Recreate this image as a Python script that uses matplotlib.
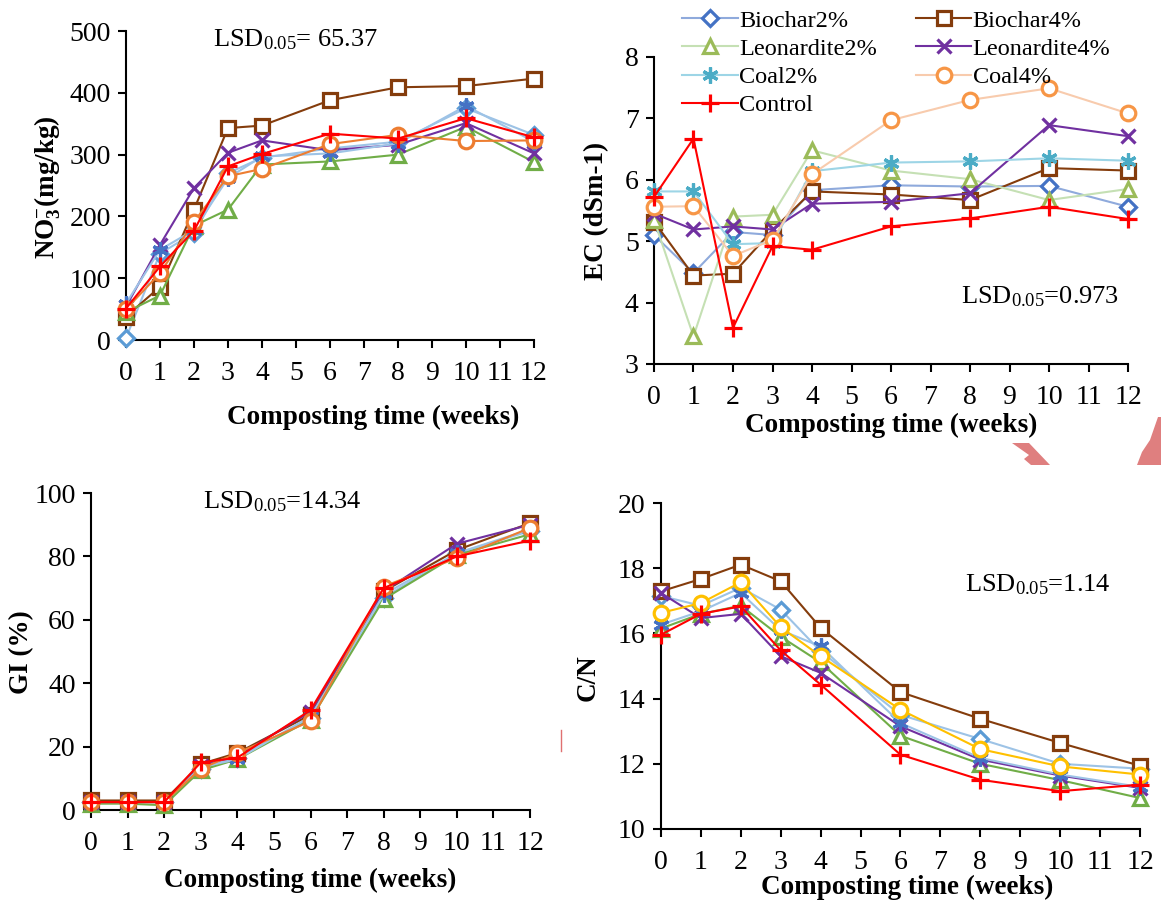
import numpy as np
import matplotlib
matplotlib.use('Agg')
import matplotlib.pyplot as plt
from matplotlib.patches import Polygon

plt.rcParams['font.family'] = ['Liberation Serif', 'DejaVu Serif']
plt.rcParams['mathtext.fontset'] = 'custom'
plt.rcParams['mathtext.rm'] = 'Liberation Serif'
plt.rcParams['mathtext.it'] = 'Liberation Serif:italic'
plt.rcParams['mathtext.bf'] = 'Liberation Serif:bold'

weeks = [0, 1, 2, 3, 4, 6, 8, 10, 12]
names = ['Biochar2%', 'Biochar4%', 'Leonardite2%', 'Leonardite4%', 'Coal2%', 'Coal4%', 'Control']

# nitrate (mg/kg)
no3_biochar2 = [3, 140, 173, 270, 295, 310, 321, 375, 332]
no3_biochar4 = [38, 86, 211, 343, 347, 388, 409, 411, 423]
no3_leon2 = [45, 72, 185, 211, 284, 289, 300, 345, 288]
no3_leon4 = [54, 154, 246, 303, 323, 307, 316, 351, 302]
no3_coal2 = [59, 146, 178, 262, 297, 302, 318, 379, 321]
no3_coal4 = [50, 108, 191, 265, 277, 317, 332, 322, 323]
no3_control = [51, 119, 177, 281, 301, 334, 326, 359, 328]

# electrical conductivity (dS/m)
ec_biochar2 = [5.10, 4.48, 5.15, 5.10, 5.83, 5.91, 5.89, 5.90, 5.56]
ec_biochar4 = [5.32, 4.44, 4.47, 5.18, 5.81, 5.76, 5.67, 6.19, 6.15]
ec_leon2 = [5.35, 3.45, 5.40, 5.43, 6.48, 6.15, 6.01, 5.67, 5.85]
ec_leon4 = [5.45, 5.19, 5.24, 5.19, 5.61, 5.64, 5.78, 6.89, 6.71]
ec_coal2 = [5.81, 5.81, 4.95, 4.97, 6.14, 6.28, 6.30, 6.35, 6.31]
ec_coal4 = [5.56, 5.57, 4.76, 5.02, 6.09, 6.97, 7.30, 7.49, 7.08]
ec_control = [5.72, 6.67, 3.59, 4.92, 4.86, 5.24, 5.37, 5.56, 5.36]

# germination index (%)
gi_biochar2 = [2.5, 2.5, 2.5, 13, 16.5, 29, 67, 81, 88]
gi_biochar4 = [3, 3, 3, 14.5, 18, 30, 69, 82, 90.5]
gi_leon2 = [2, 2, 1.5, 12.5, 16, 28.5, 66.5, 80.5, 87]
gi_leon4 = [2.5, 2.5, 2.5, 14, 17, 31, 69, 84, 90]
gi_coal2 = [2.5, 2.5, 2.5, 13.5, 16, 29.5, 68, 81, 88.5]
gi_coal4 = [2.5, 2.5, 2.5, 13, 18, 28, 70.5, 79.5, 89]
gi_control = [2.5, 2.5, 2.5, 15, 16.5, 31.5, 70, 80, 85]

# C/N ratio
cn_biochar2 = [17.15, 16.85, 17.4, 16.73, 15.45, 13.5, 12.76, 12.0, 11.85]
cn_biochar4 = [17.29, 17.67, 18.11, 17.6, 16.17, 14.2, 13.38, 12.64, 11.94]
cn_leon2 = [16.15, 16.6, 16.85, 15.9, 15.11, 12.86, 12.0, 11.5, 10.95]
cn_leon4 = [17.24, 16.47, 16.6, 15.3, 14.79, 13.15, 12.13, 11.64, 11.26]
cn_coal2 = [16.27, 16.68, 17.24, 16.1, 15.6, 13.25, 12.18, 11.67, 11.29]
cn_coal4 = [16.63, 16.93, 17.57, 16.19, 15.3, 13.66, 12.45, 11.92, 11.67]
cn_control = [15.96, 16.6, 16.83, 15.48, 14.43, 12.28, 11.51, 11.16, 11.36]

markers = ['D', 's', '^', 'x', (6, 2, 0), 'o', '+']
msizes = [8.5, 10.5, 10.5, 10.5, 11.5, 10.5, 12.5]

# (line colour, marker colour) per series
cols_a = [('#9DC3E6', '#5B9BD5'), ('#843C0C', '#843C0C'), ('#70AD47', '#70AD47'),
          ('#7030A0', '#7030A0'), ('#9DC3E6', '#4472C4'), ('#ED7D31', '#ED7D31'),
          ('#FF0000', '#FF0000')]
cols_ec = [('#8FAADC', '#4472C4'), ('#843C0C', '#843C0C'), ('#C5E0B4', '#9BBB59'),
           ('#7030A0', '#7030A0'), ('#9DD5E6', '#4BACC6'), ('#F8CBAD', '#F79646'),
           ('#FF0000', '#FF0000')]
cols_cn = [('#9DC3E6', '#5B9BD5'), ('#843C0C', '#843C0C'), ('#70AD47', '#70AD47'),
           ('#7030A0', '#7030A0'), ('#9DC3E6', '#4472C4'), ('#FFC000', '#FFC000'),
           ('#FF0000', '#FF0000')]

TICK_FS = 20
LAB_FS = 19.5


def draw(ax, series, cols):
    lines = []
    for i, y in enumerate(series):
        lc, mc = cols[i]
        hollow = markers[i] in ('D', 's', '^', 'o')
        ln, = ax.plot(weeks, y, color=lc, lw=1.5, marker=markers[i], ms=msizes[i],
                      mec=mc, mfc='white' if hollow else mc, mew=2.3,
                      clip_on=False, label=names[i], zorder=3 + i)
        lines.append(ln)
    ax.set_xlim(0, 12)
    ax.set_xticks(range(13))
    for s in ('top', 'right'):
        ax.spines[s].set_visible(False)
    for s in ('left', 'bottom'):
        ax.spines[s].set_linewidth(1.5)
    ax.tick_params(axis='both', labelsize=TICK_FS, width=1.5, length=6, direction='out')
    ax.tick_params(axis='x', pad=9)
    ax.tick_params(axis='y', pad=5)
    return lines


def labels(ax, xlab, ylab, xpos, ypos):
    ax.set_xlabel(xlab, fontsize=LAB_FS, fontweight='bold')
    ax.set_ylabel(ylab, fontsize=LAB_FS, fontweight='bold')
    ax.xaxis.set_label_coords(*xpos)
    ax.yaxis.set_label_coords(*ypos)
    ax.xaxis.label.set_va('center')
    ax.yaxis.label.set_va('center')


def lsd(ax, s, x, y):
    ax.text(x, y, s, transform=ax.transAxes, fontsize=19, va='center', ha='left')


fig = plt.figure(figsize=(11.61, 9), dpi=100)

ax1 = fig.add_axes([0.1085, 0.6222, 0.3514, 0.3433])
draw(ax1, [no3_biochar2, no3_biochar4, no3_leon2, no3_leon4, no3_coal2, no3_coal4, no3_control], cols_a)
ax1.set_ylim(0, 500)
ax1.set_yticks(range(0, 501, 100))
labels(ax1, 'Composting time (weeks)', r'NO$_\mathbf{3}^{\mathbf{-}}$(mg/kg)', (0.605, -0.249), (-0.192, 0.495))
lsd(ax1, r'LSD$_{\mathrm{0.05}}$= 65.37', 0.213, 0.971)

ax2 = fig.add_axes([0.5633, 0.5956, 0.4083, 0.3411])
lines = draw(ax2, [ec_biochar2, ec_biochar4, ec_leon2, ec_leon4, ec_coal2, ec_coal4, ec_control], cols_ec)
ax2.set_ylim(3, 8)
ax2.set_yticks(range(3, 9))
labels(ax2, 'Composting time (weeks)', 'EC (dSm-1)', (0.5, -0.199), (-0.12, 0.498))
lsd(ax2, r'LSD$_{\mathrm{0.05}}$=0.973', 0.648, 0.218)
order = [0, 2, 4, 6, 1, 3, 5]
fig.legend([lines[k] for k in order], [names[k] for k in order], ncol=2,
           loc='upper left', bbox_to_anchor=(0.5725, 1.008), frameon=False,
           fontsize=17.5, handlelength=2.3, handletextpad=0.05, columnspacing=1.6,
           labelspacing=0.25, borderpad=0.2)

ax3 = fig.add_axes([0.0784, 0.1, 0.3781, 0.3522])
draw(ax3, [gi_biochar2, gi_biochar4, gi_leon2, gi_leon4, gi_coal2, gi_coal4, gi_control], cols_a)
ax3.set_ylim(0, 100)
ax3.set_yticks(range(0, 101, 20))
labels(ax3, 'Composting time (weeks)', 'GI (%)', (0.499, -0.221), (-0.159, 0.498))
lsd(ax3, r'LSD$_{\mathrm{0.05}}$=14.34', 0.255, 0.972)

ax4 = fig.add_axes([0.5693, 0.0789, 0.4126, 0.3622])
draw(ax4, [cn_biochar2, cn_biochar4, cn_leon2, cn_leon4, cn_coal2, cn_coal4, cn_control], cols_cn)
ax4.set_ylim(10, 20)
ax4.set_yticks(range(10, 21, 2))
labels(ax4, 'Composting time (weeks)', 'C/N', (0.514, -0.178), (-0.152, 0.463))
lsd(ax4, r'LSD$_{\mathrm{0.05}}$=1.14', 0.635, 0.748)

# stray pink shapes between the panels
W, H = 1161.0, 900.0
def px(pts):
    return [(x / W, 1 - y / H) for x, y in pts]

fig.patches.append(Polygon(px([(1012, 443), (1029, 443), (1050, 465), (1031, 465), (1024, 459), (1029, 455)]),
                           closed=True, transform=fig.transFigure, color='#DF7F7F', lw=0))
fig.patches.append(Polygon(px([(1158, 417), (1161, 417), (1161, 465), (1137, 465), (1142, 452), (1150, 440)]),
                           closed=True, transform=fig.transFigure, color='#DF7F7F', lw=0))
fig.lines.append(plt.Line2D([561 / W, 561 / W], [1 - 730 / H, 1 - 751 / H],
                            transform=fig.transFigure, color='#E07070', lw=1))

fig.savefig('out.png', dpi=100)
